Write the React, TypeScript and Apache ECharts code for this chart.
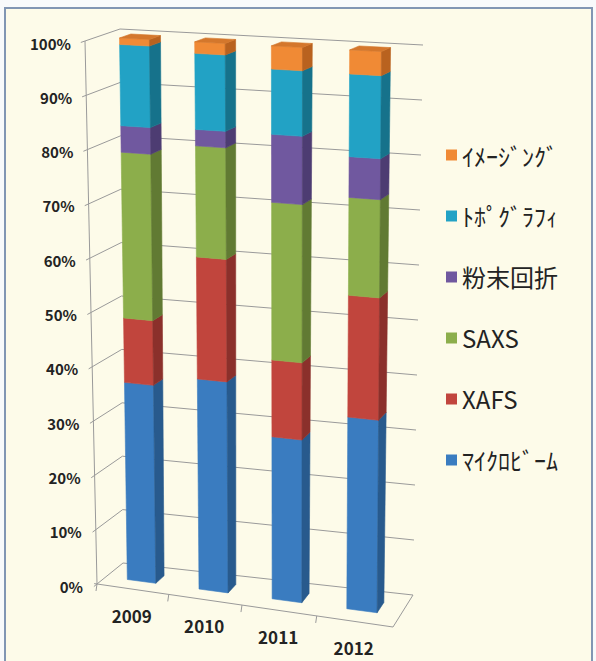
import React, { useEffect, useRef } from "react";
import * as echarts from "echarts";

// Fiscal years on the category axis
const years = ["2009", "2010", "2011", "2012"];

// Share of each technique per year (%), stacked bottom to top
const microbeam = [36.4, 38.4, 29.3, 34.3];
const xafs = [11.9, 22.3, 13.9, 21.8];
const saxs = [30.6, 20.3, 28.5, 17.5];
const powder = [4.9, 3.0, 12.3, 7.3];
const topography = [15.0, 13.9, 11.8, 14.8];
const imaging = [1.2, 2.1, 4.2, 4.3];

const seriesNames = ["ﾏｲｸﾛﾋﾞｰﾑ", "XAFS", "SAXS", "粉末回折", "ﾄﾎﾟｸﾞﾗﾌｨ", "ｲﾒｰｼﾞﾝｸﾞ"];
const seriesValues = [microbeam, xafs, saxs, powder, topography, imaging];

// Value axis ticks (%)
const yTicks = [0, 10, 20, 30, 40, 50, 60, 70, 80, 90, 100];

// Face colours for each series: front, right side, top
const frontColors = ["#3a7cc0", "#c1453d", "#8cae4b", "#70589f", "#22a2c5", "#f08a35"];
const sideColors = ["#285a8d", "#8b302b", "#617a33", "#4d3c72", "#16728b", "#b9621f"];
const topColors = ["#5a93cb", "#cf6a62", "#a2c169", "#8a74b3", "#4bb6d2", "#d4772c"];

const GRID_COLOR = "#9a9a9a";
const TEXT_COLOR = "#232323";
const FONT = '"Noto Sans CJK JP", "Noto Sans", sans-serif';

// 3D view: front (w = 0) and back (w = 1) planes of the plot box, in pixels
const VIEW_FRONT = { tl: [85, 41], tr: [396, 57], bl: [97, 584], br: [393, 627] };
const VIEW_BACK = { tl: [120, 29], tr: [423, 45], bl: [123, 563], br: [413, 595] };
const WARP = -0.04; // perspective foreshortening along the category direction
const BAR_DEPTH = [0.35, 0.68];
const BAR_WIDTH = 0.4; // fraction of a category band

type Pt = [number, number];
const lerp = (a: number, b: number, t: number) => a + (b - a) * t;

function planePoint(q: any, s: number, v: number): Pt {
  const bx = lerp(q.bl[0], q.br[0], s);
  const by = lerp(q.bl[1], q.br[1], s);
  const tx = lerp(q.tl[0], q.tr[0], s);
  const ty = lerp(q.tl[1], q.tr[1], s);
  return [lerp(bx, tx, v), lerp(by, ty, v)];
}

// u: category direction (0..1), v: value (0..1), w: depth (0 front .. 1 back)
function project(u: number, v: number, w: number): Pt {
  const s = (u * (1 + WARP)) / (1 + WARP * u);
  const f = planePoint(VIEW_FRONT, s, v);
  const b = planePoint(VIEW_BACK, s, v);
  return [lerp(f[0], b[0], w), lerp(f[1], b[1], w)];
}

function normU(cs: any, x: number) {
  return (x - cs.x) / cs.width;
}
function normV(cs: any, y: number) {
  return (cs.y + cs.height - y) / cs.height;
}

const line = (pts: Pt[]) => ({
  type: "polyline",
  silent: true,
  shape: { points: pts },
  style: { stroke: GRID_COLOR, lineWidth: 1, fill: null },
});

// Walls, gridlines and value labels, one item per tick
function renderFrame(params: any, api: any) {
  const cs = params.coordSys;
  const t = api.value(1);
  const v = normV(cs, api.coord([0, t])[1]);
  const children: any[] = [];
  children.push(line([project(0, v, -0.12), project(0, v, 1), project(1, v, 1)]));
  if (t === 0) {
    children.push(line([project(0, 0, 0), project(0, 1, 0)]));
    children.push(line([project(-0.01, 0, 0), project(1, 0, 0), project(1, 0, 1)]));
  }
  const a = project(0, v, 0);
  children.push({
    type: "text",
    silent: true,
    x: a[0] - 14,
    y: a[1] + 2,
    style: {
      text: `${t}%`,
      align: "right",
      verticalAlign: "middle",
      fill: TEXT_COLOR,
      fontSize: 15,
      fontWeight: "bold",
      fontFamily: FONT,
    },
  });
  return { type: "group", children };
}

// Floor ticks and year labels, one item per category
function renderFloor(params: any, api: any) {
  const cs = params.coordSys;
  const i = api.value(0);
  const p = api.coord([i, 0]);
  const band = api.size([1, 0])[0] / cs.width;
  const uc = normU(cs, p[0]);
  const children: any[] = [];
  const ub = uc - band / 2;
  const tb = project(ub, 0, 0);
  children.push(line([tb, [tb[0] - 1, tb[1] + 7]]));
  const c = project(uc, 0, 0);
  children.push({
    type: "text",
    silent: true,
    x: c[0] - 1,
    y: c[1] + 26,
    style: {
      text: years[i],
      align: "center",
      verticalAlign: "middle",
      fill: TEXT_COLOR,
      fontSize: 17,
      fontWeight: "bold",
      fontFamily: FONT,
    },
  });
  return { type: "group", children };
}

function makeBarRenderer(k: number) {
  return (params: any, api: any) => {
    const cs = params.coordSys;
    const i = api.value(0);
    const lo = api.value(1);
    const hi = api.value(2);
    const pLo = api.coord([i, lo]);
    const pHi = api.coord([i, hi]);
    const band = api.size([1, 0])[0] / cs.width;
    const uc = normU(cs, pLo[0]);
    const u0 = uc - (band * BAR_WIDTH) / 2;
    const u1 = uc + (band * BAR_WIDTH) / 2;
    const v0 = normV(cs, pLo[1]);
    const v1 = normV(cs, pHi[1]);
    const [w0, w1] = BAR_DEPTH;
    const face = (pts: Pt[], color: string) => ({
      type: "polygon",
      shape: { points: pts },
      style: { fill: color, stroke: color, lineWidth: 0.6 },
    });
    const children: any[] = [
      face([project(u0, v0, w0), project(u1, v0, w0), project(u1, v1, w0), project(u0, v1, w0)], frontColors[k]),
      face([project(u1, v0, w0), project(u1, v0, w1), project(u1, v1, w1), project(u1, v1, w0)], sideColors[k]),
    ];
    if (k === seriesValues.length - 1) {
      children.push(
        face([project(u0, v1, w0), project(u1, v1, w0), project(u1, v1, w1), project(u0, v1, w1)], topColors[k])
      );
    }
    return { type: "group", children };
  };
}

export default function App() {
  const ref = useRef<HTMLDivElement>(null);

  useEffect(() => {
    if (!ref.current) return;
    const chart = echarts.init(ref.current, null, { renderer: "svg" });

    const running = years.map(() => 0);
    const dataSeries = seriesValues.map((vals, k) => {
      const data = vals.map((val, i) => {
        const lo = running[i];
        running[i] = lo + val;
        return [i, lo, running[i]];
      });
      return {
        type: "custom",
        name: seriesNames[k],
        itemStyle: { color: frontColors[k] },
        encode: { x: 0, y: [1, 2] },
        renderItem: makeBarRenderer(k),
        data,
        silent: true,
      };
    });

    chart.setOption({
      animation: false,
      backgroundColor: "#f8fafb",
      graphic: [
        {
          type: "rect",
          z: -1,
          silent: true,
          shape: { x: 5, y: 8, width: 587, height: 680 },
          style: { fill: "#fdfbe9", stroke: "#8196b3", lineWidth: 2 },
        },
      ],
      grid: { left: 85, top: 41, width: 311, height: 543 },
      xAxis: { type: "category", data: years, show: false },
      yAxis: { type: "value", min: 0, max: 100, interval: 10, show: false },
      legend: {
        data: [...seriesNames].reverse(),
        orient: "vertical",
        left: 441,
        top: 138,
        itemWidth: 11,
        itemHeight: 11,
        itemGap: 37,
        icon: "rect",
        selectedMode: false,
        textStyle: { fontSize: 24, color: TEXT_COLOR, fontFamily: FONT },
      },
      series: [
        {
          type: "custom",
          name: "frame",
          encode: { x: 0, y: 1 },
          renderItem: renderFrame,
          data: yTicks.map((t) => [0, t]),
          silent: true,
          z: 1,
        },
        {
          type: "custom",
          name: "floor",
          encode: { x: 0, y: 1 },
          renderItem: renderFloor,
          data: years.map((_, i) => [i, 0]),
          silent: true,
          z: 1,
        },
        ...dataSeries,
      ],
    });

    return () => chart.dispose();
  }, []);

  return (
    <div
      ref={ref}
      style={{ position: "absolute", left: 0, top: 0, width: 596, height: 661 }}
    />
  );
}
